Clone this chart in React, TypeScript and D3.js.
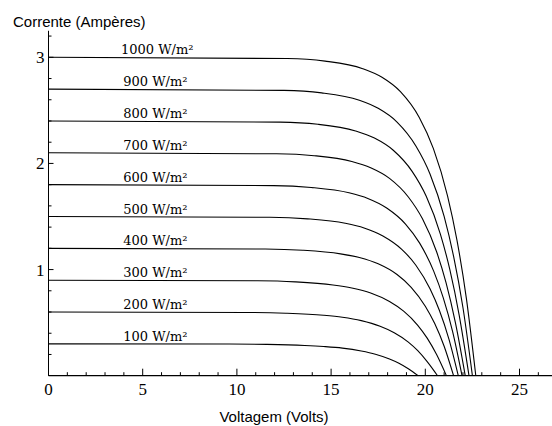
import React from "react";
import * as d3 from "d3";

// Irradiance levels (W/m²) and their I-V curves: [voltage (V), current (A)]
const irradiance = [100, 200, 300, 400, 500, 600, 700, 800, 900, 1000];

const curve100 = [[0, 0.3], [9.6, 0.298], [11.6, 0.295], [13.6, 0.285], [14.6, 0.275], [15.6, 0.26], [16.6, 0.233], [17.35, 0.203], [18.1, 0.158], [18.6, 0.118], [19.1, 0.066], [19.62, 0]];
const curve200 = [[0, 0.6], [10.6, 0.596], [12.6, 0.589], [14.6, 0.57], [15.6, 0.551], [16.6, 0.519], [17.6, 0.466], [18.35, 0.405], [19.1, 0.317], [19.6, 0.236], [20.1, 0.133], [20.65, 0]];
const curve300 = [[0, 0.9], [11.1, 0.894], [13.1, 0.884], [15.1, 0.855], [16.1, 0.826], [17.1, 0.779], [18.1, 0.699], [18.85, 0.608], [19.6, 0.475], [20.1, 0.354], [20.6, 0.199], [21.12, 0]];
const curve400 = [[0, 1.2], [11.5, 1.194], [13.5, 1.182], [15.5, 1.148], [16.5, 1.114], [17.5, 1.054], [18.5, 0.953], [19.25, 0.833], [20.0, 0.655], [20.5, 0.491], [21.0, 0.277], [21.5, 0]];
const curve500 = [[0, 1.5], [11.75, 1.493], [13.75, 1.478], [15.75, 1.436], [16.75, 1.392], [17.75, 1.317], [18.75, 1.191], [19.5, 1.041], [20.25, 0.819], [20.75, 0.614], [21.25, 0.347], [21.75, 0]];
const curve600 = [[0, 1.8], [11.95, 1.791], [13.95, 1.773], [15.95, 1.723], [16.95, 1.67], [17.95, 1.58], [18.95, 1.429], [19.7, 1.249], [20.45, 0.983], [20.95, 0.736], [21.45, 0.416], [21.95, 0]];
const curve700 = [[0, 2.1], [12.1, 2.091], [14.1, 2.073], [16.1, 2.018], [17.1, 1.959], [18.1, 1.859], [19.1, 1.684], [19.85, 1.478], [20.6, 1.168], [21.1, 0.876], [21.6, 0.498], [22.12, 0]];
const curve800 = [[0, 2.4], [12.3, 2.389], [14.3, 2.369], [16.3, 2.306], [17.3, 2.239], [18.3, 2.124], [19.3, 1.925], [20.05, 1.69], [20.8, 1.334], [21.3, 1.001], [21.8, 0.569], [22.32, 0]];
const curve900 = [[0, 2.7], [12.5, 2.688], [14.5, 2.665], [16.5, 2.595], [17.5, 2.519], [18.5, 2.39], [19.5, 2.165], [20.25, 1.901], [21.0, 1.501], [21.5, 1.126], [22.0, 0.64], [22.5, 0]];
const curve1000 = [[0, 3.0], [12.68, 2.988], [14.68, 2.964], [16.68, 2.893], [17.68, 2.814], [18.68, 2.676], [19.68, 2.433], [20.43, 2.139], [21.18, 1.695], [21.68, 1.278], [22.18, 0.729], [22.68, 0]];

const curves = [curve100, curve200, curve300, curve400, curve500, curve600, curve700, curve800, curve900, curve1000];
const shortCircuit = [0.3, 0.6, 0.9, 1.2, 1.5, 1.8, 2.1, 2.4, 2.7, 3.0];

const xTickLabels = [0, 5, 10, 15, 20, 25];
const yTickLabels = [1, 2, 3];

const W = 552;
const H = 426;

export default function App() {
  const x = d3.scaleLinear().domain([0, 25]).range([48.5, 519.5]);
  const y = d3.scaleLinear().domain([0, 3]).range([375.7, 57.3]);

  const line = d3
    .line<number[]>()
    .x((d) => x(d[0]))
    .y((d) => y(d[1]))
    .curve(d3.curveMonotoneX);

  const xMinor = d3.range(1, 27).filter((v) => v % 5 !== 0);
  const yMinor = d3.range(1, 17).map((k) => k * 0.2).filter((v) => Math.abs(v - Math.round(v)) > 0.01);

  const x0 = x(0);
  const y0 = y(0);
  const serif = "'Liberation Serif', 'Times New Roman', serif";
  const sans = "'Liberation Sans', Arial, sans-serif";

  return (
    <svg
      width={W}
      height={H}
      style={{ position: "absolute", left: 0, top: 0, background: "#fff" }}
    >
      <rect x={0} y={0} width={W} height={H} fill="#fff" />
      {/* axes */}
      <line x1={x0} x2={W} y1={y0} y2={y0} stroke="#000" strokeWidth={1.2} />
      <line x1={x0} x2={x0} y1={y0} y2={y(3.25)} stroke="#000" strokeWidth={1} />
      {/* x ticks */}
      {xMinor.map((v) => (
        <line key={"xm" + v} x1={x(v)} x2={x(v)} y1={y0} y2={y0 - 3.5} stroke="#000" strokeWidth={1} />
      ))}
      {xTickLabels.map((v) => (
        <g key={"xt" + v}>
          <line x1={x(v)} x2={x(v)} y1={y0} y2={y0 - 7} stroke="#000" strokeWidth={1} />
          <text x={x(v)} y={394.5} textAnchor="middle" fontFamily={serif} fontSize={17} fill="#000">
            {v}
          </text>
        </g>
      ))}
      {/* y ticks */}
      {yMinor.map((v) => (
        <line key={"ym" + v} x1={x0} x2={x0 + 3} y1={y(v)} y2={y(v)} stroke="#000" strokeWidth={1} />
      ))}
      {yTickLabels.map((v) => (
        <g key={"yt" + v}>
          <line x1={x0} x2={x0 + 5} y1={y(v)} y2={y(v)} stroke="#000" strokeWidth={1} />
          <text x={x0 - 4} y={y(v) + 6} textAnchor="end" fontFamily={serif} fontSize={17} fill="#000">
            {v}
          </text>
        </g>
      ))}
      {/* curves */}
      {curves.map((c, i) => (
        <path key={"c" + i} d={line(c) || ""} fill="none" stroke="#000" strokeWidth={1.1} />
      ))}
      {/* labels */}
      {irradiance.map((g, i) => (
        <text
          key={"l" + g}
          x={x(g === 1000 ? 3.85 : 3.97)}
          y={y(shortCircuit[i]) - 3}
          fontFamily="'DejaVu Serif', serif"
          fontSize={13}
          fill="#000"
        >
          {g} W/m²
        </text>
      ))}
      {/* titles */}
      <text x={13} y={26.5} fontFamily={sans} fontSize={15} fill="#000">
        Corrente (Ampères)
      </text>
      <text x={274} y={421.5} textAnchor="middle" fontFamily={sans} fontSize={15} fill="#000">
        Voltagem (Volts)
      </text>
    </svg>
  );
}
